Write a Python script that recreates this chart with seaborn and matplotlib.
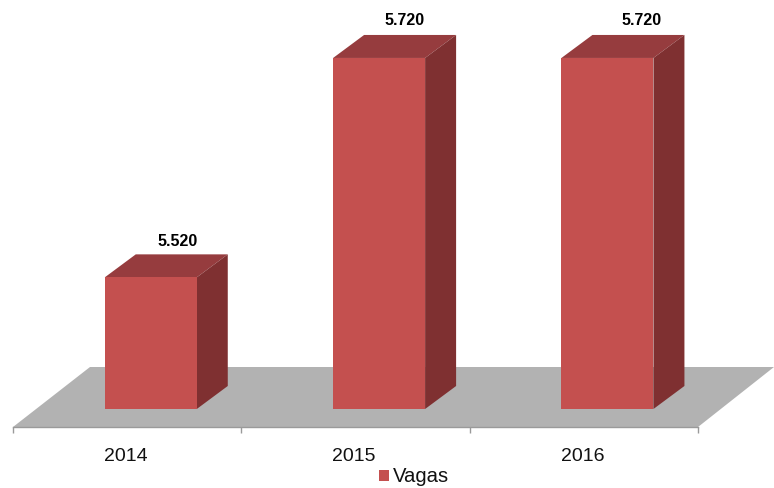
import matplotlib
matplotlib.use("Agg")
import matplotlib.pyplot as plt
from matplotlib.patches import Polygon
from matplotlib.transforms import ScaledTranslation
import seaborn as sns

years = ["2014", "2015", "2016"]
vagas = [5520, 5720, 5720]
value_labels = ["5.520", "5.720", "5.720"]
series_name = "Vagas"

FRONT, TOP, SIDE = "#C4504F", "#963C3E", "#7F3031"
FLOOR, AXIS = "#B2B2B2", "#9A9A9A"
W, H = 774, 488
BASE = 5400
PX_PER_UNIT = 1.097
PX_PER_CAT = 685 / 3
BAR_W = 92 / PX_PER_CAT
BAR_SHIFT = 23.6 / PX_PER_CAT
AX_L, AX_B = 13, 427

sns.set_style("white")
plt.rcParams["font.family"] = ["Liberation Sans", "DejaVu Sans"]

fig = plt.figure(figsize=(W / 100, H / 100), dpi=100)
ax = fig.add_axes([AX_L / W, (H - AX_B) / H, 685 / W, AX_B / H])

sns.barplot(x=years, y=vagas, color=FRONT, saturation=1, width=BAR_W, ax=ax, zorder=3)

ymin = BASE - (AX_B - 409) / PX_PER_UNIT
ymax = ymin + AX_B / PX_PER_UNIT
ax.set_xlim(-0.5, 2.5)
ax.set_ylim(ymin, ymax)

dx = lambda px: px / PX_PER_CAT
dy = lambda px: px / PX_PER_UNIT

# floor of the 3-D plot
ax.add_patch(Polygon(
    [(-0.5, ymin), (2.5, ymin), (2.5 + dx(76), ymin + dy(60)), (-0.5 + dx(77), ymin + dy(60))],
    closed=True, fc=FLOOR, ec="none", zorder=1, clip_on=False))

# bars: move front face, then extrude top and side
DX, DY = dx(31), dy(23)
for i, (bar, v) in enumerate(zip(ax.patches[:3], vagas)):
    bar.set_x(i - BAR_W / 2 + BAR_SHIFT)
    bar.set_y(BASE)
    bar.set_height(v - BASE)
    bar.set_linewidth(0)
    l, r = bar.get_x(), bar.get_x() + BAR_W
    ax.add_patch(Polygon([(l, v), (r, v), (r + DX, v + DY), (l + DX, v + DY)],
                         closed=True, fc=TOP, ec="none", zorder=2, clip_on=False))
    ax.add_patch(Polygon([(r, BASE), (r + DX, BASE + DY), (r + DX, v + DY), (r, v)],
                         closed=True, fc=SIDE, ec="none", zorder=2, clip_on=False))

# value labels
label_dx = [27, 25.5, 34]
label_dy = [35.5, 37.5, 37.5]
for i, (v, s) in enumerate(zip(vagas, value_labels)):
    ax.annotate(s, (i + BAR_SHIFT, v), xytext=(label_dx[i] * 0.72, label_dy[i] * 0.72),
                textcoords="offset points", ha="center", va="center",
                fontsize=11.5, fontweight="bold", color="black", zorder=5,
                annotation_clip=False)

# axis
sns.despine(ax=ax, left=True, top=True, right=True)
ax.spines["bottom"].set_color(AXIS)
ax.spines["bottom"].set_linewidth(1)
ax.spines["bottom"].set_zorder(4)
ax.set_yticks([])
ax.set_xticks(range(3), years)
ax.set_xticks([-0.5, 0.5, 1.5, 2.5], minor=True)
ax.tick_params(axis="x", which="major", length=0, pad=14.8, labelsize=14, labelcolor="#111111")
ax.tick_params(axis="x", which="minor", length=4, width=1, color=AXIS, bottom=True)
nudge = ScaledTranslation(-1.5 / 100, 0, fig.dpi_scale_trans)
for t in ax.get_xticklabels():
    t.set_transform(t.get_transform() + nudge)
ax.set_xlabel("")
ax.patch.set_alpha(0)

# legend
ax.legend([ax.patches[0]], [series_name], loc="center",
          bbox_to_anchor=(414 / W, (H - 477) / H), bbox_transform=fig.transFigure,
          frameon=False, fontsize=14.6, handlelength=0.5, handleheight=0.5,
          handletextpad=0.22, borderpad=0, labelcolor="#111111")

fig.savefig("out.png", dpi=100)
